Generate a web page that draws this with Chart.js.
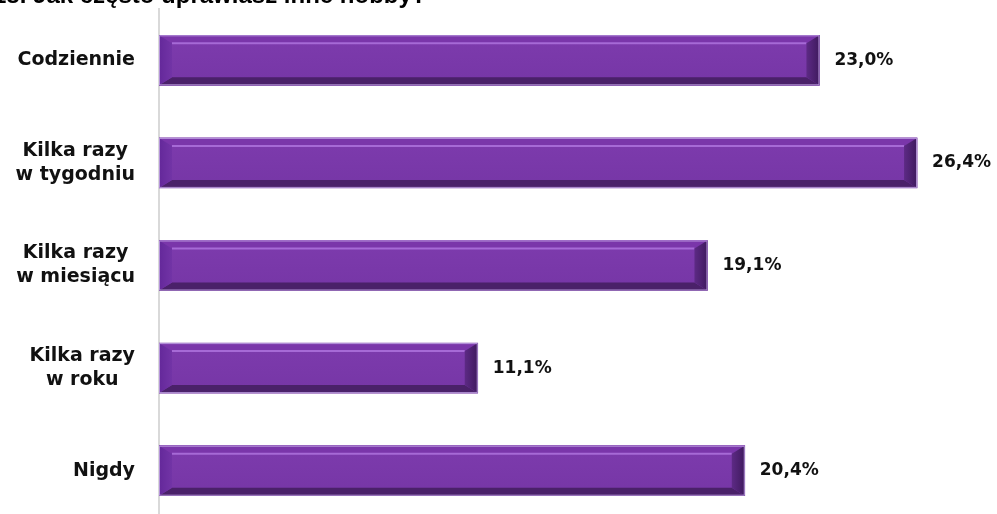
<!DOCTYPE html>
<html>
<head>
<meta charset="utf-8">
<script src="https://cdn.jsdelivr.net/npm/chart.js@4/dist/chart.umd.min.js"></script>
<style>
  html, body { margin: 0; padding: 0; background: #fff; overflow: hidden; }
  #wrap { position: relative; width: 997px; height: 514px; overflow: hidden; }
  #title { position: absolute; left: -7px; top: -17px; font: bold 24px "Liberation Sans", Arial, sans-serif; line-height: 24px; color: #000; white-space: nowrap; z-index: 2; }
  canvas { position: absolute; left: 0; top: 0; }
</style>
</head>
<body>
<div id="wrap">
  <div id="title">18. Jak często uprawiasz inne hobby?</div>
  <canvas id="c" width="997" height="522"></canvas>
</div>
<script>
const categories = [
  ["Codziennie"],
  ["Kilka razy", "w tygodniu"],
  ["Kilka razy", "w miesiącu"],
  ["Kilka razy", "w roku"],
  ["Nigdy"]
];
const values = [23.0, 26.4, 19.1, 11.1, 20.4];
const valueLabels = ["23,0%", "26,4%", "19,1%", "11,1%", "20,4%"];

const bevelPlugin = {
  id: 'bevel',
  afterDatasetsDraw(chart) {
    const ctx = chart.ctx;
    const meta = chart.getDatasetMeta(0);
    meta.data.forEach((bar, i) => {
      const p = bar.getProps(['x', 'y', 'base', 'height'], true);
      const left = p.base, right = p.x;
      const top = p.y - p.height / 2, bottom = p.y + p.height / 2;
      const bx = 13, by = 8;
      ctx.save();
      const g = ctx.createLinearGradient(0, top, 0, bottom);
      g.addColorStop(0, '#7d3bad');
      g.addColorStop(1, '#7636a6');
      ctx.fillStyle = g;
      ctx.fillRect(left, top, right - left, bottom - top);
      ctx.fillStyle = '#7a36aa';
      ctx.beginPath();
      ctx.moveTo(left, top); ctx.lineTo(right, top); ctx.lineTo(right - bx, top + by); ctx.lineTo(left + bx, top + by); ctx.closePath(); ctx.fill();
      ctx.strokeStyle = '#a66ad6';
      ctx.lineWidth = 2;
      ctx.beginPath(); ctx.moveTo(left + bx, top + by); ctx.lineTo(right - bx, top + by); ctx.stroke();
      ctx.fillStyle = '#4a2169';
      ctx.beginPath();
      ctx.moveTo(left, bottom); ctx.lineTo(right, bottom); ctx.lineTo(right - bx, bottom - by); ctx.lineTo(left + bx, bottom - by); ctx.closePath(); ctx.fill();
      const gl = ctx.createLinearGradient(left, 0, left + bx, 0);
      gl.addColorStop(0, '#64289a');
      gl.addColorStop(1, '#7234a6');
      ctx.fillStyle = gl;
      ctx.beginPath();
      ctx.moveTo(left, top); ctx.lineTo(left + bx, top + by); ctx.lineTo(left + bx, bottom - by); ctx.lineTo(left, bottom); ctx.closePath(); ctx.fill();
      const gr = ctx.createLinearGradient(right - bx, 0, right, 0);
      gr.addColorStop(0, '#5d2a85');
      gr.addColorStop(1, '#3f1a5e');
      ctx.fillStyle = gr;
      ctx.beginPath();
      ctx.moveTo(right, top); ctx.lineTo(right - bx, top + by); ctx.lineTo(right - bx, bottom - by); ctx.lineTo(right, bottom); ctx.closePath(); ctx.fill();
      ctx.strokeStyle = 'rgba(190,160,225,0.9)';
      ctx.lineWidth = 1;
      ctx.strokeRect(left + 0.5, top + 0.5, right - left - 1, bottom - top - 1);
      ctx.fillStyle = '#111';
      ctx.font = 'bold 17px "DejaVu Sans", sans-serif';
      ctx.textAlign = 'left';
      ctx.textBaseline = 'middle';
      ctx.fillText(valueLabels[i], right + 15, p.y);
      ctx.restore();
    });
  }
};

// category labels: block right-aligned, lines centred within the block
const catLabelPlugin = {
  id: 'catLabels',
  afterDraw(chart) {
    const ctx = chart.ctx;
    const scale = chart.scales.y;
    const lineH = 24;
    ctx.save();
    ctx.font = 'bold 19px "DejaVu Sans", sans-serif';
    ctx.fillStyle = '#111';
    ctx.textAlign = 'center';
    ctx.textBaseline = 'middle';
    categories.forEach((lines, i) => {
      const y = scale.getPixelForTick(i);
      const w = Math.max(...lines.map(l => ctx.measureText(l).width));
      const cx = scale.right - 24 - w / 2;
      lines.forEach((l, j) => {
        ctx.fillText(l, cx, y + (j - (lines.length - 1) / 2) * lineH);
      });
    });
    ctx.restore();
  }
};

new Chart(document.getElementById('c'), {
  type: 'bar',
  data: {
    labels: categories,
    datasets: [{
      data: values,
      backgroundColor: '#7a38a8',
      borderWidth: 0,
      barThickness: 50
    }]
  },
  options: {
    indexAxis: 'y',
    responsive: false,
    animation: false,
    devicePixelRatio: 1,
    layout: { padding: { top: 9, right: 34, bottom: 0, left: 0 } },
    plugins: { legend: { display: false }, tooltip: { enabled: false }, title: { display: false } },
    scales: {
      x: { display: false, min: 0, max: 28 },
      y: {
        afterFit(scale) { scale.width = 159; scale.paddingTop = 0; scale.paddingBottom = 0; },
        grid: { display: false },
        border: { display: true, color: '#d9d9d9', width: 2 },
        ticks: { display: false }
      }
    }
  },
  plugins: [bevelPlugin, catLabelPlugin]
});
</script>
</body>
</html>
